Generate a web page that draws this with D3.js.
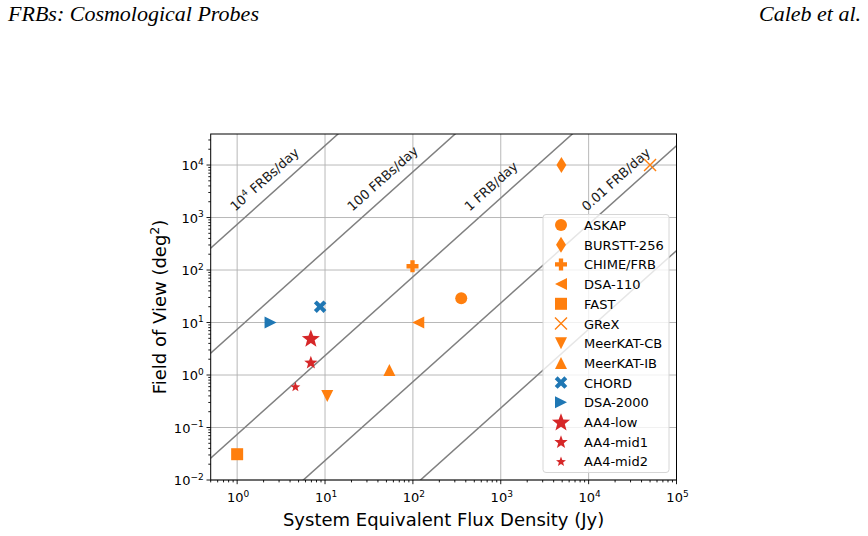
<!DOCTYPE html>
<html>
<head>
<meta charset="utf-8">
<script src="https://cdn.jsdelivr.net/npm/d3@7"></script>
<style>
    body { margin: 0; background: #fff; }
    svg text { font-family: "DejaVu Sans", sans-serif; }
</style>
</head>
<body>
<svg id="chart" width="868" height="536"></svg>
<script>
/**
 * Chart data
 */
var names = ["ASKAP", "BURSTT-256", "CHIME/FRB", "DSA-110", "FAST", "GReX",
    "MeerKAT-CB", "MeerKAT-IB", "CHORD", "DSA-2000", "AA4-low", "AA4-mid1", "AA4-mid2"];
var sefd = [355, 4900, 99, 115, 1, 50000, 10.6, 54, 8.8, 2.4, 6.9, 6.9, 4.6];
var fov = [29, 10000, 118, 10, 0.031, 10000, 0.4, 1.25, 20, 10, 5, 1.75, 0.6];
var groups = ["cur", "cur", "cur", "cur", "cur", "cur", "cur", "cur", "fut", "fut", "aa4", "aa4", "aa4"];
var shapes = ["circle", "thin_diamond", "plus", "tri_left", "square", "x",
    "tri_down", "tri_up", "filled_x", "tri_right", "star", "star", "star"];
var markerSizes = [12, 16, 12, 12, 12, 12, 12, 12, 13, 12, 19, 14, 10.5];

// event-rate lines (FRBs/day), FoV = rate * S^1.5 * 10^-1.13
var rates = [1e4, 100, 1, 0.01, 1e-4];
var rateLabels = [["10", "4", " FRBs/day"], ["100 FRBs/day"], ["1 FRB/day"], ["0.01 FRB/day"]];
var xTickExp = [0, 1, 2, 3, 4, 5];
var yTickExp = [-2, -1, 0, 1, 2, 3, 4];

var colors = { cur: "#ff7f0e", fut: "#1f77b4", aa4: "#d62728" };
var rateOffset = -1.13;

window.onload = function(){
    drawChart();
};

function polyPath(p){
    return "M" + p.map(function(q){ return q[0].toFixed(2) + "," + q[1].toFixed(2); }).join("L") + "Z";
}

function markerPath(shape, s){
    // returns a path string for a marker of approx width s centered at 0,0
    let r = s / 2;
    if (shape === "circle"){
        return d3.symbol(d3.symbolCircle, Math.PI * r * r)();
    }
    if (shape === "square"){
        return d3.symbol(d3.symbolSquare, s * s)();
    }
    if (shape === "thin_diamond"){
        let w = r * 0.62;
        return `M0,${-r}L${w},0L0,${r}L${-w},0Z`;
    }
    if (shape === "plus"){
        let t = r * 0.36;
        return `M${-t},${-r}H${t}V${-t}H${r}V${t}H${t}V${r}H${-t}V${t}H${-r}V${-t}H${-t}Z`;
    }
    if (shape === "filled_x"){
        let t = r * 0.3, c = Math.SQRT1_2;
        let pts = [[-t, -r], [t, -r], [t, -t], [r, -t], [r, t], [t, t], [t, r], [-t, r], [-t, t], [-r, t], [-r, -t], [-t, -t]];
        return polyPath(pts.map(function(q){
            return [(q[0] - q[1]) * c * 1.05, (q[0] + q[1]) * c * 1.05];
        }));
    }
    if (shape.indexOf("tri") === 0){
        let pts = [[0, -r], [r, r], [-r, r]];
        let ang = { tri_up: 0, tri_down: 180, tri_left: -90, tri_right: 90 }[shape] * Math.PI / 180;
        return polyPath(pts.map(function(q){
            return [q[0] * Math.cos(ang) - q[1] * Math.sin(ang), q[0] * Math.sin(ang) + q[1] * Math.cos(ang)];
        }));
    }
    if (shape === "star"){
        let p = [];
        for (let i = 0; i < 10; i++){
            let rr = i % 2 === 0 ? r : r * 0.42;
            let a = -Math.PI / 2 + i * Math.PI / 5;
            p.push([rr * Math.cos(a), rr * Math.sin(a) + r * 0.08]);
        }
        return polyPath(p);
    }
    if (shape === "x"){
        return `M${-r},${-r}L${r},${r}M${-r},${r}L${r},${-r}`;
    }
}

function drawMarker(g, shape, s, color){
    let path = g.append("path").attr("d", markerPath(shape, s));
    if (shape === "x"){
        path.style("fill", "none").style("stroke", color).style("stroke-width", 1.4);
    } else {
        path.style("fill", color);
    }
    return path;
}

function expLabel(sel, exp){
    sel.append("tspan").text("10");
    sel.append("tspan")
        .attr("dy", -5.5)
        .style("font-size", "9px")
        .text(exp < 0 ? "\u2212" + Math.abs(exp) : exp);
}

function drawChart(){
    let svg = d3.select("#chart");

    // page header
    svg.append("text")
        .attr("x", 8).attr("y", 21)
        .style("font-family", "'Liberation Serif', serif")
        .style("font-style", "italic")
        .style("font-size", "22px")
        .text("FRBs: Cosmological Probes");
    svg.append("text")
        .attr("x", 861).attr("y", 21)
        .attr("text-anchor", "end")
        .style("font-family", "'Liberation Serif', serif")
        .style("font-style", "italic")
        .style("font-size", "22px")
        .text("Caleb et al.");

    // setup D3 scales
    let left = 210.7, right = 676.5, top = 134, bottom = 480;
    let xScale = d3.scaleLog().domain([0.5, 1e5]).range([left, right]);
    let yScale = d3.scaleLog().domain([0.01, 3.9e4]).range([bottom, top]);

    svg.append("defs").append("clipPath").attr("id", "plotclip")
        .append("rect")
        .attr("x", left).attr("y", top)
        .attr("width", right - left).attr("height", bottom - top);

    // grid
    let grid = svg.append("g");
    xTickExp.forEach(function(e){
        let x = xScale(Math.pow(10, e));
        grid.append("line").attr("x1", x).attr("x2", x).attr("y1", top).attr("y2", bottom)
            .style("stroke", "#b0b0b0").style("stroke-width", 0.9);
    });
    yTickExp.forEach(function(e){
        let y = yScale(Math.pow(10, e));
        grid.append("line").attr("x1", left).attr("x2", right).attr("y1", y).attr("y2", y)
            .style("stroke", "#b0b0b0").style("stroke-width", 0.9);
    });

    // constant-rate lines
    let plot = svg.append("g").attr("clip-path", "url(#plotclip)");
    let lineGen = d3.line()
        .x(function(d){ return xScale(d[0]); })
        .y(function(d){ return yScale(d[1]); });
    rates.forEach(function(r){
        let pts = [0.3, 2e5].map(function(s){
            return [s, r * Math.pow(10, rateOffset) * Math.pow(s, 1.5)];
        });
        plot.append("path").attr("d", lineGen(pts))
            .style("fill", "none").style("stroke", "#808080").style("stroke-width", 1.5);
    });

    // line labels, anchored at baseline start just left of each line
    let angle = -Math.atan(1.5 * (52.5 / 87.87)) * 180 / Math.PI;
    rateLabels.forEach(function(lab, i){
        let logF = 3.11;
        let logS = (logF - Math.log10(rates[i]) - rateOffset) / 1.5;
        let cx = xScale(Math.pow(10, logS)) - 16;
        let cy = yScale(Math.pow(10, logF));
        let t = svg.append("text")
            .attr("transform", `translate(${cx},${cy}) rotate(${angle})`)
            .style("font-size", "13px")
            .style("fill", "#1a1a1a");
        if (lab.length === 3){
            t.append("tspan").text(lab[0]);
            t.append("tspan").attr("dy", -5).style("font-size", "9px").text(lab[1]);
            t.append("tspan").attr("dy", 5).text(lab[2]);
        } else {
            t.text(lab[0]);
        }
    });

    // data points
    let pts = svg.append("g");
    names.forEach(function(n, i){
        let g = pts.append("g")
            .attr("transform", `translate(${xScale(sefd[i])},${yScale(fov[i])})`);
        drawMarker(g, shapes[i], markerSizes[i], colors[groups[i]]);
    });

    // frame
    svg.append("rect")
        .attr("x", left).attr("y", top)
        .attr("width", right - left).attr("height", bottom - top)
        .style("fill", "none").style("stroke", "#000").style("stroke-width", 1);

    // ticks
    let ticks = svg.append("g").style("stroke", "#000").style("stroke-width", 0.9);
    xTickExp.forEach(function(e){
        let x = xScale(Math.pow(10, e));
        ticks.append("line").attr("x1", x).attr("x2", x).attr("y1", bottom).attr("y2", bottom + 4.2);
        let t = svg.append("text").attr("x", x + 1).attr("y", bottom + 22)
            .attr("text-anchor", "middle").style("font-size", "13px");
        expLabel(t, e);
    });
    yTickExp.forEach(function(e){
        let y = yScale(Math.pow(10, e));
        ticks.append("line").attr("x1", left).attr("x2", left - 4.2).attr("y1", y).attr("y2", y);
        let t = svg.append("text").attr("x", left - 7).attr("y", y + 5)
            .attr("text-anchor", "end").style("font-size", "13px");
        expLabel(t, e);
    });
    // minor ticks
    for (let e = -1; e < 5; e++){
        for (let m = 2; m < 10; m++){
            let v = m * Math.pow(10, e);
            if (v < 0.5 || v > 1e5) continue;
            let x = xScale(v);
            ticks.append("line").attr("x1", x).attr("x2", x).attr("y1", bottom).attr("y2", bottom + 2.4);
        }
    }
    for (let e = -2; e < 5; e++){
        for (let m = 2; m < 10; m++){
            let v = m * Math.pow(10, e);
            if (v > 3.9e4) continue;
            let y = yScale(v);
            ticks.append("line").attr("x1", left).attr("x2", left - 2.4).attr("y1", y).attr("y2", y);
        }
    }

    // axis labels
    svg.append("text")
        .attr("x", (left + right) / 2).attr("y", 526)
        .attr("text-anchor", "middle")
        .style("font-size", "18px")
        .text("System Equivalent Flux Density (Jy)");
    let yl = svg.append("text")
        .attr("transform", `translate(166,${(top + bottom) / 2}) rotate(-90)`)
        .attr("text-anchor", "middle")
        .style("font-size", "18px");
    yl.append("tspan").text("Field of View (deg");
    yl.append("tspan").attr("dy", -7).style("font-size", "12.5px").text("2");
    yl.append("tspan").attr("dy", 7).text(")");

    // legend
    let lg = svg.append("g");
    lg.append("rect")
        .attr("x", 543).attr("y", 214.5)
        .attr("width", 126).attr("height", 258)
        .attr("rx", 3)
        .style("fill", "#fff").style("fill-opacity", 0.8)
        .style("stroke", "#d6d6d6").style("stroke-width", 1);
    names.forEach(function(n, i){
        let y = 225 + i * 19.7;
        let g = lg.append("g").attr("transform", `translate(561,${y})`);
        drawMarker(g, shapes[i], markerSizes[i], colors[groups[i]]);
        lg.append("text").attr("x", 584).attr("y", y + 5)
            .style("font-size", "13px").text(n);
    });
}
</script>
</body>
</html>
